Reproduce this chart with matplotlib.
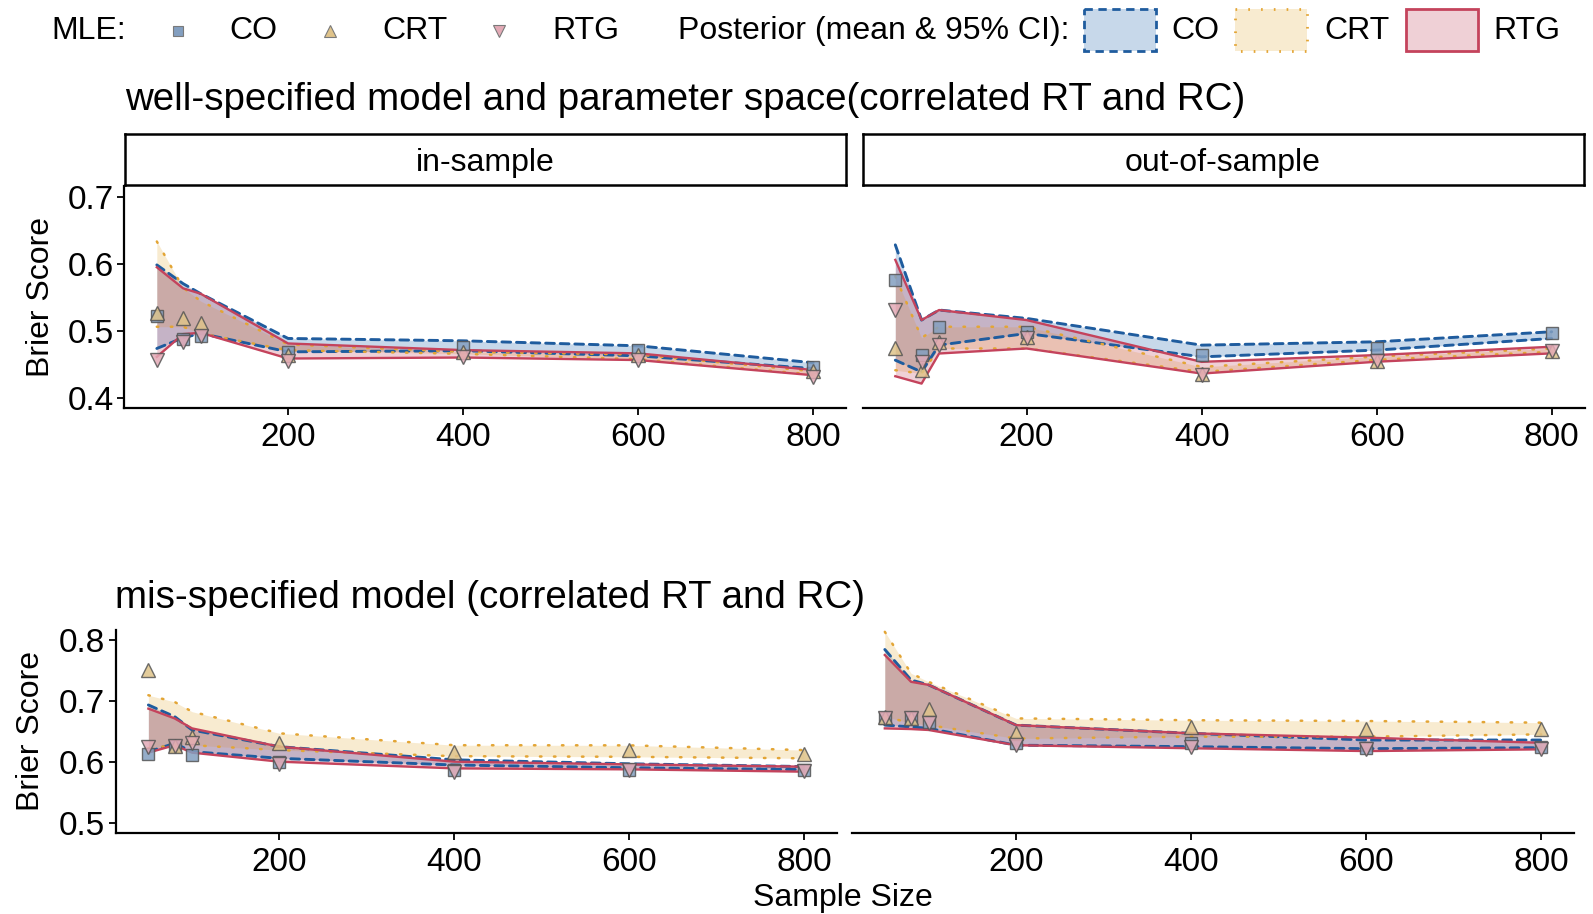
import matplotlib.pyplot as plt
import matplotlib.patches as mpatches
from matplotlib.lines import Line2D

plt.rcParams['font.family'] = ['Liberation Sans', 'DejaVu Sans']

# sample sizes on the x axis
sample_size = [50, 80, 100, 200, 400, 600, 800]
x_ticks = [200, 400, 600, 800]

# well-specified, in-sample : posterior 95% CI bounds and MLE points
ws_in_co_lo = [0.474, 0.490, 0.4965, 0.469, 0.4706, 0.463, 0.444]
ws_in_co_hi = [0.599, 0.571, 0.556, 0.489, 0.4855, 0.478, 0.4527]
ws_in_crt_lo = [0.5065, 0.5065, 0.4965, 0.4715, 0.466, 0.458, 0.435]
ws_in_crt_hi = [0.634, 0.565, 0.545, 0.480, 0.469, 0.465, 0.440]
ws_in_rtg_lo = [0.4615, 0.4955, 0.4975, 0.459, 0.4605, 0.4567, 0.434]
ws_in_rtg_hi = [0.5955, 0.564, 0.556, 0.4815, 0.4716, 0.4667, 0.4418]
ws_in_mle_co = [0.522, 0.4875, 0.4925, 0.469, 0.4766, 0.4716, 0.4467]
ws_in_mle_crt = [0.527, 0.519, 0.512, 0.464, 0.468, 0.465, 0.440]
ws_in_mle_rtg = [0.457, 0.484, 0.493, 0.455, 0.4616, 0.4567, 0.4318]

# well-specified, out-of-sample
ws_out_co_lo = [0.4565, 0.439, 0.479, 0.4965, 0.4615, 0.4716, 0.489]
ws_out_co_hi = [0.629, 0.5165, 0.5315, 0.519, 0.479, 0.484, 0.499]
ws_out_crt_lo = [0.4415, 0.4365, 0.474, 0.474, 0.439, 0.457, 0.469]
ws_out_crt_hi = [0.582, 0.490, 0.5065, 0.5065, 0.4465, 0.462, 0.474]
ws_out_rtg_lo = [0.4325, 0.4215, 0.4665, 0.474, 0.4365, 0.4542, 0.4667]
ws_out_rtg_hi = [0.6065, 0.5165, 0.5315, 0.5165, 0.454, 0.4642, 0.4766]
ws_out_mle_co = [0.5765, 0.464, 0.5065, 0.499, 0.464, 0.474, 0.4975]
ws_out_mle_crt = [0.474, 0.4415, 0.484, 0.4915, 0.4365, 0.456, 0.470]
ws_out_mle_rtg = [0.5315, 0.454, 0.479, 0.489, 0.434, 0.456, 0.470]

# mis-specified, in-sample
ms_in_co_lo = [0.6164, 0.630, 0.6164, 0.6055, 0.5945, 0.590, 0.587]
ms_in_co_hi = [0.693, 0.674, 0.652, 0.6246, 0.603, 0.5965, 0.592]
ms_in_crt_lo = [0.622, 0.627, 0.627, 0.619, 0.609, 0.608, 0.6055]
ms_in_crt_hi = [0.709, 0.698, 0.682, 0.6465, 0.627, 0.6268, 0.619]
ms_in_rtg_lo = [0.6148, 0.627, 0.6148, 0.600, 0.589, 0.5874, 0.5836]
ms_in_rtg_hi = [0.687, 0.671, 0.6546, 0.6246, 0.600, 0.5956, 0.5918]
ms_in_mle_co = [0.6126, 0.6257, 0.611, 0.600, 0.586, 0.587, 0.586]
ms_in_mle_crt = [0.750, 0.6257, 0.641, 0.630, 0.6164, 0.619, 0.612]
ms_in_mle_rtg = [0.6246, 0.626, 0.631, 0.597, 0.5836, 0.587, 0.584]

# mis-specified, out-of-sample
ms_out_co_lo = [0.660, 0.657, 0.6546, 0.627, 0.6246, 0.6213, 0.6229]
ms_out_co_hi = [0.784, 0.734, 0.726, 0.660, 0.6465, 0.6355, 0.6355]
ms_out_crt_lo = [0.674, 0.663, 0.660, 0.638, 0.641, 0.641, 0.6448]
ms_out_crt_hi = [0.813, 0.745, 0.731, 0.671, 0.668, 0.6667, 0.664]
ms_out_rtg_lo = [0.6546, 0.6535, 0.652, 0.627, 0.622, 0.6174, 0.6202]
ms_out_rtg_hi = [0.775, 0.731, 0.726, 0.660, 0.6465, 0.6394, 0.631]
ms_out_mle_co = [0.671, 0.671, 0.6656, 0.630, 0.630, 0.623, 0.624]
ms_out_mle_crt = [0.674, 0.671, 0.687, 0.6465, 0.657, 0.653, 0.654]
ms_out_mle_rtg = [0.671, 0.671, 0.663, 0.627, 0.6246, 0.621, 0.621]

# colours / styles
C_CO, C_CRT, C_RTG = '#1f5c9e', '#e3a535', '#c4435c'
F_CO, F_CRT, F_RTG = '#2166ac', '#e6b045', '#c2455e'
M_CO, M_CRT, M_RTG = '#839fc0', '#dfc38a', '#e3aab6'
LS_CO, LS_CRT, LS_RTG = (0, (3, 2)), (0, (0.6, 5)), '-'
LW_CO, LW_CRT, LW_RTG = 2.1, 1.8, 1.7
FILL_ALPHA = 0.25

W, H = 1593, 914
fig = plt.figure(figsize=(W / 100, H / 100), dpi=100)


def px(x0, y_top, w, h):
    # convert pixel box (top-left origin) to figure fraction
    return [x0 / W, 1 - (y_top + h) / H, w / W, h / H]


def draw_panel(ax, series, ylim, yticks, show_y):
    for lo, hi, fc, lc, ls, lw in series['ribbons']:
        ax.fill_between(sample_size, lo, hi, color=fc, alpha=FILL_ALPHA, lw=0, zorder=1)
        kw = dict(color=lc, lw=lw, ls=ls, zorder=2)
        if ls != '-':
            kw['dash_capstyle'] = 'round'
        ax.plot(sample_size, lo, **kw)
        ax.plot(sample_size, hi, **kw)
    for vals, mk, mc, ms in series['points']:
        ax.plot(sample_size, vals, ls='none', marker=mk, ms=ms, mfc=mc,
                mec='#555555', mew=1.0, alpha=0.85, zorder=3)
    ax.set_xlim(12.5, 837.5)
    ax.set_ylim(*ylim)
    ax.set_xticks(x_ticks)
    ax.tick_params(axis='both', labelsize=24, length=5, width=1.3, colors='black')
    ax.tick_params(axis='x', pad=5)
    ax.tick_params(axis='y', pad=2.5)
    for s in ['top', 'right']:
        ax.spines[s].set_visible(False)
    ax.spines['bottom'].set_linewidth(1.6)
    if show_y:
        ax.set_yticks(yticks)
        ax.set_yticklabels(['%.1f' % v for v in yticks])
        ax.spines['left'].set_linewidth(1.6)
    else:
        ax.spines['left'].set_visible(False)
        ax.set_yticks([])
    ax.patch.set_alpha(0)


def make_series(co_lo, co_hi, crt_lo, crt_hi, rtg_lo, rtg_hi, m_co, m_crt, m_rtg):
    return {
        'ribbons': [(co_lo, co_hi, F_CO, C_CO, LS_CO, LW_CO),
                    (crt_lo, crt_hi, F_CRT, C_CRT, LS_CRT, LW_CRT),
                    (rtg_lo, rtg_hi, F_RTG, C_RTG, LS_RTG, LW_RTG)],
        'points': [(m_co, 's', M_CO, 8.5), (m_crt, '^', M_CRT, 10.5), (m_rtg, 'v', M_RTG, 10.5)],
    }


ws_in = make_series(ws_in_co_lo, ws_in_co_hi, ws_in_crt_lo, ws_in_crt_hi,
                    ws_in_rtg_lo, ws_in_rtg_hi, ws_in_mle_co, ws_in_mle_crt, ws_in_mle_rtg)
ws_out = make_series(ws_out_co_lo, ws_out_co_hi, ws_out_crt_lo, ws_out_crt_hi,
                     ws_out_rtg_lo, ws_out_rtg_hi, ws_out_mle_co, ws_out_mle_crt, ws_out_mle_rtg)
ms_in = make_series(ms_in_co_lo, ms_in_co_hi, ms_in_crt_lo, ms_in_crt_hi,
                    ms_in_rtg_lo, ms_in_rtg_hi, ms_in_mle_co, ms_in_mle_crt, ms_in_mle_rtg)
ms_out = make_series(ms_out_co_lo, ms_out_co_hi, ms_out_crt_lo, ms_out_crt_hi,
                     ms_out_rtg_lo, ms_out_rtg_hi, ms_out_mle_co, ms_out_mle_crt, ms_out_mle_rtg)

ax_tl = fig.add_axes(px(124, 186, 722, 222))
ax_tr = fig.add_axes(px(862.5, 186, 722, 222))
ax_bl = fig.add_axes(px(115.6, 630, 721, 203))
ax_br = fig.add_axes(px(852, 630, 722, 203))

draw_panel(ax_tl, ws_in, (0.385, 0.717), [0.4, 0.5, 0.6, 0.7], True)
draw_panel(ax_tr, ws_out, (0.385, 0.717), [0.4, 0.5, 0.6, 0.7], False)
draw_panel(ax_bl, ms_in, (0.483, 0.816), [0.5, 0.6, 0.7, 0.8], True)
draw_panel(ax_br, ms_out, (0.483, 0.816), [0.5, 0.6, 0.7, 0.8], False)

# facet strips
for x0, label in [(125, 'in-sample'), (862.5, 'out-of-sample')]:
    st = fig.add_axes(px(x0, 134, 721, 51))
    st.set_xticks([])
    st.set_yticks([])
    for s in st.spines.values():
        s.set_linewidth(1.8)
    st.text(0.5, 0.44, label, ha='center', va='center', fontsize=23, transform=st.transAxes)

# titles and axis labels
fig.text(125 / W, 1 - 100 / H, 'well-specified model and parameter space(correlated RT and RC)',
         ha='left', va='center', fontsize=27.7)
fig.text(115 / W, 1 - 598 / H, 'mis-specified model (correlated RT and RC)',
         ha='left', va='center', fontsize=27.7)
fig.text(41 / W, 1 - 297 / H, 'Brier Score', rotation=90, ha='center', va='center', fontsize=23)
fig.text(31 / W, 1 - 731 / H, 'Brier Score', rotation=90, ha='center', va='center', fontsize=23)
fig.text(843 / W, 1 - 898 / H, 'Sample Size', ha='center', va='center', fontsize=23)

# legend drawn on an overlay in pixel units
lg = fig.add_axes([0, 0, 1, 1])
lg.set_xlim(0, W)
lg.set_ylim(H, 0)
lg.axis('off')
ly = 31
lg.text(51, ly, 'MLE:', ha='left', va='center', fontsize=23)
for xm, mk, mc, label, xt in [(178, 's', M_CO, 'CO', 229.5),
                              (330, '^', M_CRT, 'CRT', 382),
                              (499, 'v', M_RTG, 'RTG', 552)]:
    lg.add_line(Line2D([xm], [ly], marker=mk, ms=6.5 if mk == 's' else 8, mfc=mc,
                       mec='#7a7a7a', mew=0.8, ls='none'))
    lg.text(xt, ly, label, ha='left', va='center', fontsize=23)
lg.text(678, ly, 'Posterior (mean & 95% CI):', ha='left', va='center', fontsize=23)
for xb, fc, lc, ls, label, xt in [(1084, F_CO, C_CO, (0, (3, 2)), 'CO', 1171.5),
                                  (1235, F_CRT, C_CRT, (0, (0.6, 4)), 'CRT', 1324),
                                  (1406, F_RTG, C_RTG, '-', 'RTG', 1493.5)]:
    lg.add_patch(mpatches.Rectangle((xb, 8.5), 72, 42, facecolor=fc, alpha=FILL_ALPHA, lw=0))
    lg.add_patch(mpatches.Rectangle((xb, 8.5), 72, 42, facecolor='none', edgecolor=lc,
                                    lw=2, ls=ls))
    lg.text(xt, ly, label, ha='left', va='center', fontsize=23)

fig.savefig('out.png', dpi=100)
